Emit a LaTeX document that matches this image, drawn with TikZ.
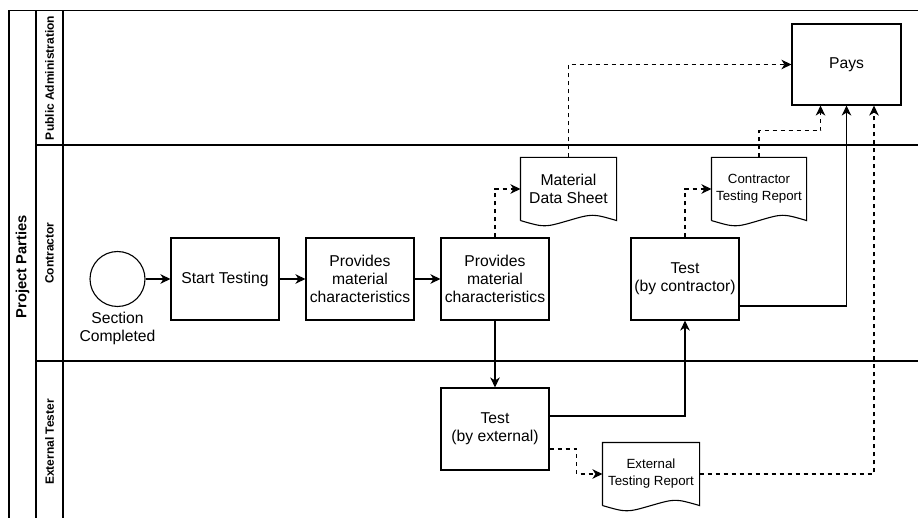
\documentclass[tikz,border=0pt]{standalone}
\usepackage{fontspec}
\setmainfont{Liberation Sans}
\usetikzlibrary{calc, arrows.meta, positioning}

\begin{document}
\begin{tikzpicture}[x=1pt, y=-1pt, line width=1.1pt,
  task/.style={draw, minimum width=108pt, minimum height=82pt, inner sep=0pt,
    align=center, font=\fontsize{15.7}{18}\selectfont},
  docu/.style={minimum width=95pt, minimum height=62pt, inner sep=0pt,
    align=center, font=\fontsize{15.7}{18}\selectfont},
  small/.style={font=\fontsize{13.3}{17}\selectfont},
  lane/.style={rotate=90, font=\bfseries\fontsize{12}{14}\selectfont},
  flow/.style={-{Stealth[length=10pt, width=9.5pt, inset=3pt]}},
  flowd/.style={flow, dash pattern=on 4pt off 4pt},
]
  \useasboundingbox (0,0) rectangle (918,518);
  % 泳道
  \draw (9,518) -- (9,10.5) -- (918,10.5);
  \draw (36,10.5) -- (36,518);
  \draw (63,10.5) -- (63,518);
  \draw (36,145) -- (918,145);
  \draw (36,361) -- (918,361);
  \node[lane, font=\bfseries\fontsize{14.7}{17}\selectfont] (pool) at (22.5,267) {Project Parties};
  \node[lane] (lpa) at (49.5,78) {Public Administration};
  \node[lane] (lco) at (49.5,253) {Contractor};
  \node[lane] (lex) at (49.5,442) {External Tester};

  \node[draw, circle, minimum size=55pt, inner sep=0pt] (evt) at (117.5,279) {};
  \node[below=5pt of evt, inner sep=0pt, align=center,
    font=\fontsize{15.7}{18}\selectfont] (evtlbl) {Section\\Completed};
  \node[task] (st)  at (225,279) {Start Testing};
  \node[task] (pm1) at (360,279) {Provides\\material\\characteristics};
  \node[task] (pm2) at (495,279) {Provides\\material\\characteristics};
  \node[task] (tc)  at (685,279) {Test\\(by contractor)};
  \node[task] (te)  at (495,429) {Test\\(by external)};
  \node[task, minimum width=109pt, minimum height=81pt] (pays) at (846.5,64.5) {Pays};
  \node[docu] (mds) at (568.5,189) {Material\\Data Sheet};
  \node[docu, small, minimum width=94pt] (ctr) at (759,189) {Contractor\\Testing Report};
  \node[docu, small, minimum width=96pt] (etr) at (651,474) {External\\Testing Report};
  \foreach \d in {mds,ctr,etr}
    \draw (\d.south west) -- (\d.north west) -- (\d.north east) -- (\d.south east)
      .. controls ($(\d.south east)!0.25!(\d.south west)+(0,-7)$) .. (\d.south)
      .. controls ($(\d.south west)!0.25!(\d.south east)+(0,7)$) .. (\d.south west);

  \coordinate (p1) at ($(pays.south)+(-26,0)$);
  \coordinate (p3) at ($(pays.south)+(27.5,0)$);

  \draw[flow] (evt) -- (st);
  \draw[flow] (st) -- (pm1);
  \draw[flow] (pm1) -- (pm2);
  \draw[flow] (pm2.south) -- (te.north);
  \draw[flowd] (pm2.north) |- (mds.west);
  \draw[flowd] (mds.north) |- (pays.west);
  \draw[flowd] (tc.north) |- (ctr.west);
  \draw[flowd] (ctr.north) -- ++(0,-26.5) -| (p1);
  \draw[flow] ($(tc.east)+(0,27)$) -| (pays.south);
  \draw[flow] ($(te.east)+(0,-13)$) -| (tc.south);
  \draw[flowd] ($(te.east)+(0,20)$) -- ++(27,0) |- (etr.west);
  \draw[flowd] (etr.east) -| (p3);
\end{tikzpicture}
\end{document}
